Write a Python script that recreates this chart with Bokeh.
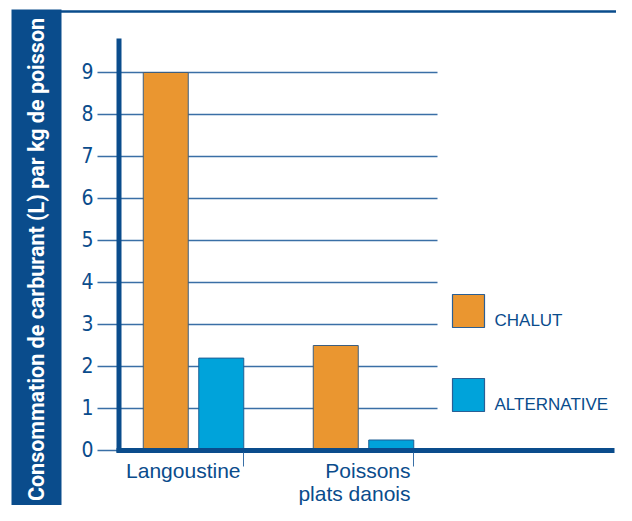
import math
from bokeh.plotting import figure
from bokeh.models import ColumnDataSource, Range1d
from bokeh.core.properties import value
from bokeh.embed import file_html
from bokeh.resources import INLINE

# ---- data ----
categories = ["Langoustine", "Poissons\nplats danois"]
series_names = ["CHALUT", "ALTERNATIVE"]
chalut = [9.0, 2.5]
alternative = [2.2, 0.25]
y_ticks = [0, 1, 2, 3, 4, 5, 6, 7, 8, 9]
y_title = "Consommation de carburant (L) par kg de poisson"

ORANGE = "#EA9630"
BLUE = "#00A3DA"
DARK = "#0A4C8C"
GRID = "#3A6FA6"
FONT = "'Liberation Sans', Arial, sans-serif"
NARROW = "'Liberation Sans Narrow', 'DejaVu Sans Condensed', 'Liberation Sans', sans-serif"

W, H = 616, 505
# picture pixel -> data helpers
def X(px):
    return (px - 193.0) / 170.0
def Y(py):
    return (450.0 - py) / 42.0

p = figure(width=W, height=H, output_backend="svg", toolbar_location=None,
           x_range=Range1d(X(0), X(W)), y_range=Range1d(Y(H), Y(0)),
           min_border=0, outline_line_color=None)
p.axis.visible = False
p.grid.visible = False
p.background_fill_color = "white"
p.border_fill_color = "white"

# side title bar
p.quad(left=[X(11)], right=[X(61)], top=[Y(9)], bottom=[Y(540)],
       fill_color=DARK, line_color=None)
p.text(x=[X(36)], y=[Y(259)], text=[y_title], angle=math.pi / 2,
       text_align="center", text_baseline="middle", text_color="white",
       text_font=value("Roboto"), text_font_style="bold", text_font_size="21.5px")

# top rule
p.segment(x0=[X(60)], y0=[Y(11)], x1=[X(640)], y1=[Y(11)],
          line_color=DARK, line_width=2.5)

# gridlines
p.segment(x0=[X(97)] * len(y_ticks), y0=y_ticks, x1=[X(437)] * len(y_ticks), y1=y_ticks,
          line_color=GRID, line_width=1.3)

# bars
idx = list(range(len(categories)))
off = 27.75 / 170.0
bw = 45.0 / 170.0
src = ColumnDataSource(dict(x1=[i - off for i in idx], x2=[i + off for i in idx],
                            chalut=chalut, alternative=alternative))
p.vbar(x="x1", top="chalut", bottom=0, width=bw, source=src,
       fill_color=ORANGE, line_color="#3d5f80", line_width=1)
p.vbar(x="x2", top="alternative", bottom=0, width=bw, source=src,
       fill_color=BLUE, line_color="#1f5f95", line_width=1)

# axes lines
p.segment(x0=[X(118.5)], y0=[Y(38)], x1=[X(118.5)], y1=[Y(452)],
          line_color=DARK, line_width=5)
p.segment(x0=[X(116)], y0=[0], x1=[X(614)], y1=[0],
          line_color=DARK, line_width=5)

# y tick labels
p.text(x=[X(93)] * len(y_ticks), y=y_ticks, text=[str(t) for t in y_ticks],
       text_align="right", text_baseline="middle", y_offset=-2,
       text_color=DARK, text_font=value(NARROW), text_font_size="21px")

# category ticks and labels
tick_x = [i + 50.0 / 170.0 for i in idx]
p.segment(x0=tick_x, y0=[Y(452)] * len(idx), x1=tick_x, y1=[Y(466)] * len(idx),
          line_color=GRID, line_width=1)
p.text(x=[i + 47.0 / 170.0 for i in idx], y=[Y(458)] * len(idx), text=categories,
       text_align="right", text_baseline="top", text_color=DARK,
       text_font=value(FONT), text_font_size="21px", text_line_height=1.0)

# legend
colors = [ORANGE, BLUE]
leg_top = [294, 378]
p.quad(left=[X(452)] * 2, right=[X(484)] * 2, top=[Y(t) for t in leg_top],
       bottom=[Y(t + 33) for t in leg_top], fill_color=colors,
       line_color="#2a5f95", line_width=1.2)
p.text(x=[X(494)] * 2, y=[Y(t + 26) for t in leg_top], text=series_names,
       text_align="left", text_baseline="alphabetic", text_color=DARK,
       text_font=value(FONT), text_font_size="17px")

open("out.html", "w").write(file_html(p, INLINE))
